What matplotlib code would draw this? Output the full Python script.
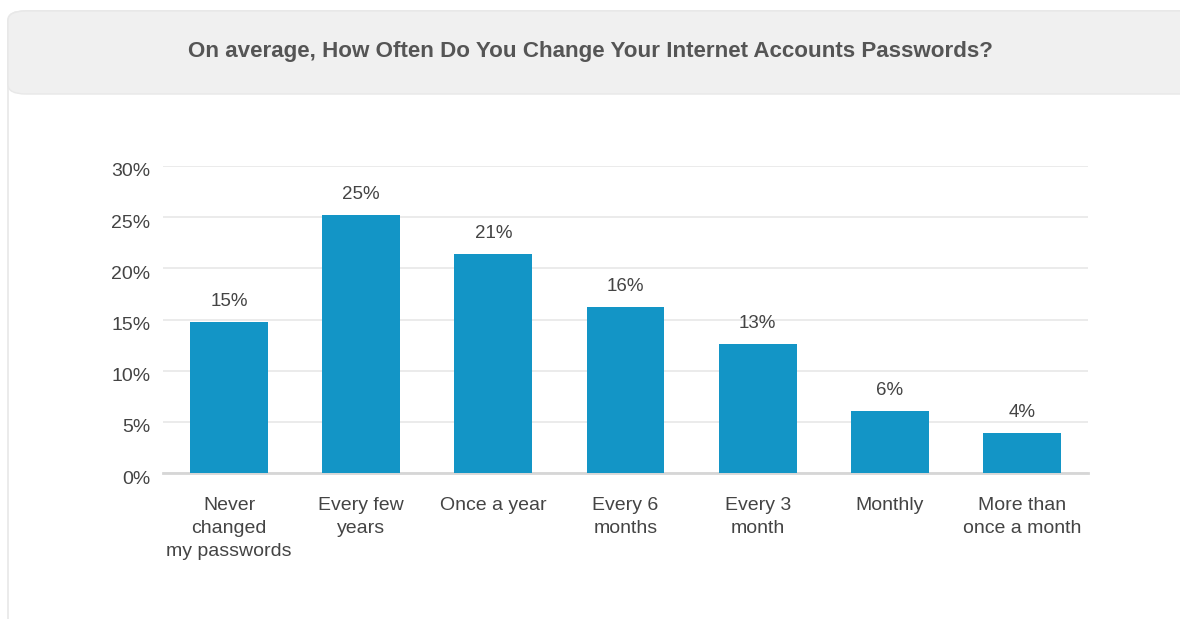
import matplotlib.pyplot as plt
from matplotlib.patches import FancyBboxPatch
from matplotlib.transforms import ScaledTranslation

plt.rcParams['font.family'] = ['Liberation Sans', 'DejaVu Sans']

categories = ["Never\nchanged\nmy passwords", "Every few\nyears", "Once a year",
              "Every 6\nmonths", "Every 3\nmonth", "Monthly", "More than\nonce a month"]
values = [14.8, 25.2, 21.4, 16.2, 12.6, 6.1, 3.9]
labels = ["15%", "25%", "21%", "16%", "13%", "6%", "4%"]
yticks = [0, 5, 10, 15, 20, 25, 30]

title = "On average, How Often Do You Change Your Internet Accounts Passwords?"
bar_color = '#1395c6'
text_color = '#444444'

fig = plt.figure(figsize=(11.8, 6.19), dpi=100)
W, H = 1180, 619

# card body + header band
card = FancyBboxPatch((8 / W, -0.05), 1.1, (608 / H) + 0.05,
                      boxstyle="round,pad=0,rounding_size=0.015",
                      transform=fig.transFigure, facecolor='white',
                      edgecolor='#e8e8e8', linewidth=1.2, zorder=-2)
fig.patches.append(card)
header = FancyBboxPatch((8 / W, 1 - 94 / H), 1.1, 83 / H,
                        boxstyle="round,pad=0,rounding_size=0.015",
                        transform=fig.transFigure, facecolor='#f0f0f0',
                        edgecolor='#e8e8e8', linewidth=1.0, zorder=-1)
fig.patches.append(header)
fig.text(590 / W, 1 - 51 / H, title, ha='center', va='center',
         fontsize=16.1, fontweight='bold', color='#555555')

ax = fig.add_axes([163 / W, 1 - 473 / H, (1088 - 163) / W, (473 - 166) / H])
ax.set_facecolor('none')
x = range(len(categories))
ax.bar(x, values, width=0.59, color=bar_color, zorder=3)
for xi, v, lab in zip(x, values, labels):
    ax.annotate(lab, (xi, v), xytext=(0, 12), textcoords='offset pixels',
                ha='center', va='bottom', fontsize=13.5, color=text_color)

ax.set_xlim(-0.5, len(categories) - 0.5)
ax.set_ylim(0, 30)
ax.set_yticks(yticks)
ax.set_yticklabels([f"{t}%" for t in yticks])
ax.set_xticks(list(x))
ax.set_xticklabels(categories, linespacing=1.46)
ax.tick_params(axis='both', length=0, labelsize=14, colors=text_color)
ax.tick_params(axis='x', pad=17)
ax.tick_params(axis='y', pad=9)
# y labels sit a few pixels below their gridlines
shift = ScaledTranslation(0, -4 / 100, fig.dpi_scale_trans)
for lab in ax.get_yticklabels():
    lab.set_transform(lab.get_transform() + shift)
ax.grid(axis='y', color='#e8e8e8', linewidth=1.2, zorder=0)
for s in ['top', 'right', 'left']:
    ax.spines[s].set_visible(False)
ax.spines['bottom'].set_color('#d6d6d6')
ax.spines['bottom'].set_linewidth(2)

fig.savefig('out.png', dpi=100)
